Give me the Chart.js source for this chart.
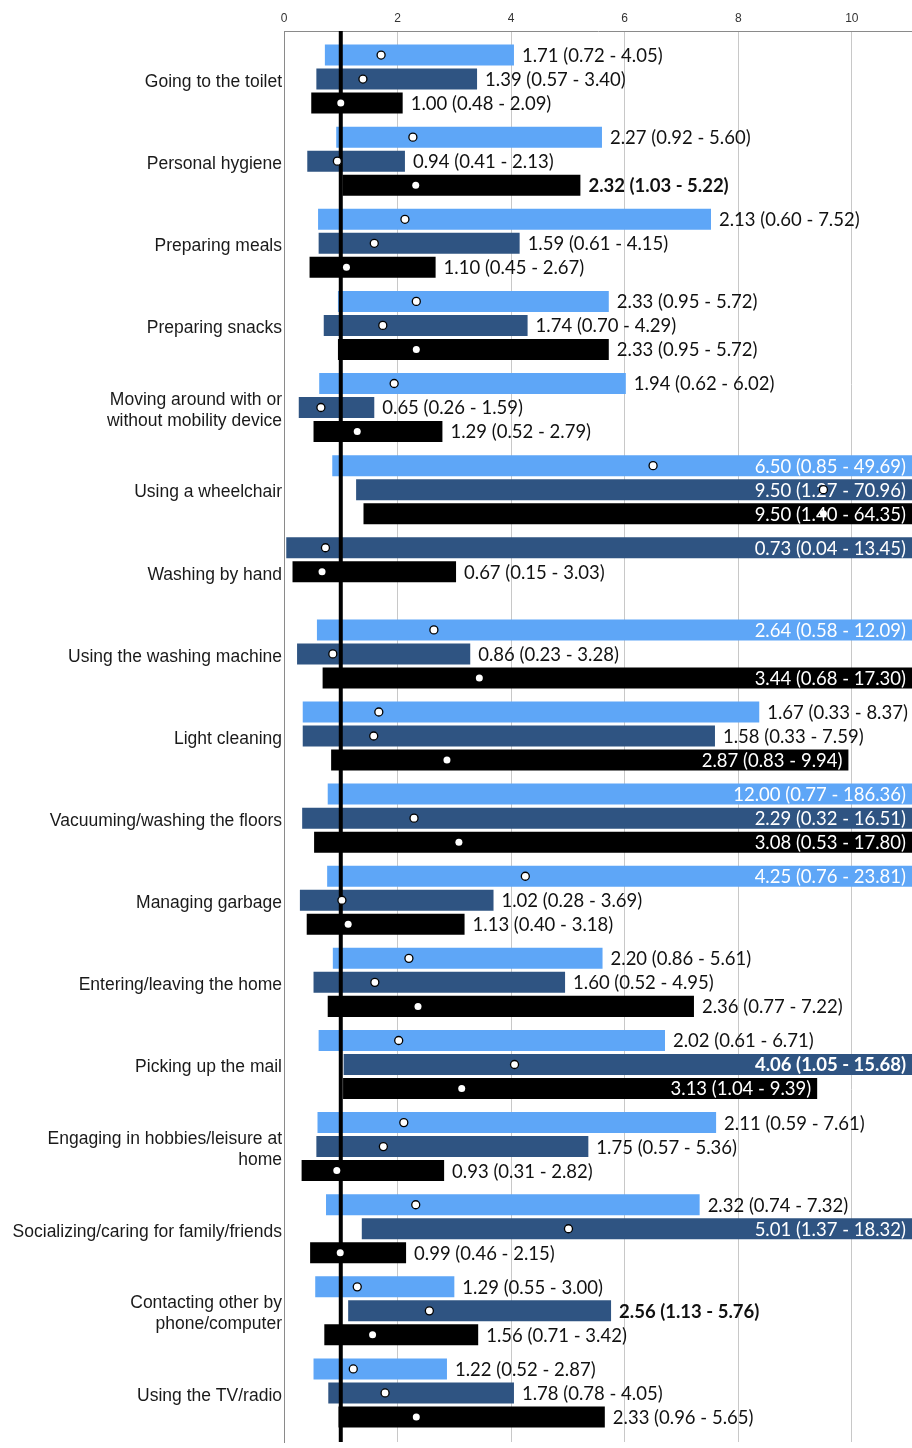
<!DOCTYPE html>
<html>
<head>
<meta charset="utf-8">
<script src="https://cdn.jsdelivr.net/npm/chart.js@4.4.1/dist/chart.umd.min.js"></script>
<style>
  html, body { margin: 0; background: #fff; }
  #wrap { width: 912px; height: 1448px; }
</style>
</head>
<body>
<div id="wrap"><canvas id="chart"></canvas></div>
<script>
// Activities (top to bottom); arrays are used for labels that wrap
const activities = [
  'Going to the toilet',
  'Personal hygiene',
  'Preparing meals',
  'Preparing snacks',
  ['Moving around with or', 'without mobility device'],
  'Using a wheelchair',
  'Washing by hand',
  'Using the washing machine',
  'Light cleaning',
  'Vacuuming/washing the floors',
  'Managing garbage',
  'Entering/leaving the home',
  'Picking up the mail',
  ['Engaging in hobbies/leisure at', 'home'],
  'Socializing/caring for family/friends',
  ['Contacting other by', 'phone/computer'],
  'Using the TV/radio'
];

// Odds ratios with 95% CI for each group (null = not estimated)
const lightEst = [1.71, 2.27, 2.13, 2.33, 1.94, 6.50, null, 2.64, 1.67, 12.00, 4.25, 2.20, 2.02, 2.11, 2.32, 1.29, 1.22];
const lightLo  = [0.72, 0.92, 0.60, 0.95, 0.62, 0.85, null, 0.58, 0.33, 0.77, 0.76, 0.86, 0.61, 0.59, 0.74, 0.55, 0.52];
const lightHi  = [4.05, 5.60, 7.52, 5.72, 6.02, 49.69, null, 12.09, 8.37, 186.36, 23.81, 5.61, 6.71, 7.61, 7.32, 3.00, 2.87];

const darkEst = [1.39, 0.94, 1.59, 1.74, 0.65, 9.50, 0.73, 0.86, 1.58, 2.29, 1.02, 1.60, 4.06, 1.75, 5.01, 2.56, 1.78];
const darkLo  = [0.57, 0.41, 0.61, 0.70, 0.26, 1.27, 0.04, 0.23, 0.33, 0.32, 0.28, 0.52, 1.05, 0.57, 1.37, 1.13, 0.78];
const darkHi  = [3.40, 2.13, 4.15, 4.29, 1.59, 70.96, 13.45, 3.28, 7.59, 16.51, 3.69, 4.95, 15.68, 5.36, 18.32, 5.76, 4.05];

const blackEst = [1.00, 2.32, 1.10, 2.33, 1.29, 9.50, 0.67, 3.44, 2.87, 3.08, 1.13, 2.36, 3.13, 0.93, 0.99, 1.56, 2.33];
const blackLo  = [0.48, 1.03, 0.45, 0.95, 0.52, 1.40, 0.15, 0.68, 0.83, 0.53, 0.40, 0.77, 1.04, 0.31, 0.46, 0.71, 0.96];
const blackHi  = [2.09, 5.22, 2.67, 5.72, 2.79, 64.35, 3.03, 17.30, 9.94, 17.80, 3.18, 7.22, 9.39, 2.82, 2.15, 3.42, 5.65];

// rows whose label is printed in bold
const lightBold = [];
const darkBold = [12, 15];
const blackBold = [1];

const xTicks = [0, 2, 4, 6, 8, 10];
const refValue = 1;

const series = [
  { est: lightEst, lo: lightLo, hi: lightHi, bold: lightBold, color: '#5ea6f7', outline: true },
  { est: darkEst, lo: darkLo, hi: darkHi, bold: darkBold, color: '#2f5482', outline: true },
  { est: blackEst, lo: blackLo, hi: blackHi, bold: blackBold, color: '#000000', outline: false }
];

// within a row the available estimates are packed from the top slot down
const slots = series.map(() => []);
activities.forEach((a, i) => {
  series
    .map((s, k) => k)
    .filter(k => series[k].lo[i] != null)
    .forEach((k, slot) => slots[slot].push({ x: [series[k].lo[i], series[k].hi[i]], y: i, s: k }));
});

const fmt = v => v.toFixed(2);
const numFont = 'Lato, "Open Sans", sans-serif';

// reference line at OR = 1, value labels and point estimates
const overlay = {
  id: 'overlay',
  afterDatasetsDraw(chart) {
    const { ctx, chartArea: area, scales: { x } } = chart;
    const refX = x.getPixelForValue(refValue);
    ctx.save();
    ctx.strokeStyle = '#000';
    ctx.lineWidth = 4;
    ctx.beginPath();
    ctx.moveTo(refX, area.top);
    ctx.lineTo(refX, area.bottom);
    ctx.stroke();

    const each = fn => chart.data.datasets.forEach((ds, k) => {
      chart.getDatasetMeta(k).data.forEach((bar, j) => {
        const d = ds.data[j];
        fn(bar, series[d.s], d.y);
      });
    });

    // labels
    ctx.textBaseline = 'middle';
    each((bar, s, i) => {
      const text = `${fmt(s.est[i])} (${fmt(s.lo[i])} - ${fmt(s.hi[i])})`;
      ctx.font = `${s.bold.includes(i) ? 'bold ' : ''}18.5px ${numFont}`;
      const w = ctx.measureText(text).width;
      const end = Math.min(bar.x, area.right);
      if (end + 8 + w <= area.right) {
        ctx.textAlign = 'left';
        ctx.fillStyle = '#111';
        ctx.fillText(text, end + 8, bar.y + 1);
      } else {
        ctx.textAlign = 'right';
        ctx.fillStyle = '#fff';
        ctx.fillText(text, end - 6, bar.y + 1);
      }
    });

    // point estimates
    each((bar, s, i) => {
      const px = x.getPixelForValue(s.est[i]);
      if (px > area.right) return;
      ctx.beginPath();
      ctx.arc(px, bar.y, s.outline ? 4 : 3.5, 0, Math.PI * 2);
      ctx.fillStyle = '#fff';
      ctx.fill();
      if (s.outline) {
        ctx.strokeStyle = '#000';
        ctx.lineWidth = 1.3;
        ctx.stroke();
      }
    });
    ctx.restore();
  }
};

const datasets = slots.map(data => ({
  data,
  backgroundColor: c => (c.raw ? series[c.raw.s].color : '#000'),
  borderWidth: 0,
  categoryPercentage: 0.877,
  barPercentage: 0.875
}));

new Chart(document.getElementById('chart'), {
  type: 'bar',
  data: { datasets },
  options: {
    indexAxis: 'y',
    responsive: true,
    maintainAspectRatio: false,
    animation: false,
    layout: { padding: { top: 0, right: 0, bottom: 6, left: 0 } },
    plugins: { legend: { display: false }, tooltip: { enabled: false } },
    scales: {
      x: {
        type: 'linear',
        position: 'top',
        min: 0,
        max: 11.06,
        afterBuildTicks: s => { s.ticks = xTicks.map(v => ({ value: v })); },
        afterFit: s => { s.height = 31; },
        ticks: { color: '#333', font: { family: 'Liberation Sans, Arial', size: 12 }, padding: 5 },
        grid: { color: '#c8c8c8', lineWidth: 1, drawTicks: false },
        border: { color: '#8a8a8a', width: 1 }
      },
      y: {
        type: 'linear',
        reverse: true,
        offset: false,
        min: -0.585,
        max: 16.597,
        afterBuildTicks: s => { s.ticks = activities.map((a, i) => ({ value: i })); },
        afterFit: s => { s.width = 284; s.paddingTop = 0; s.paddingBottom = 0; },
        ticks: {
          color: '#1a1a1a',
          font: { family: 'Liberation Sans, Arial', size: 17.5 },
          padding: 2,
          labelOffset: 3,
          callback: v => activities[v]
        },
        grid: { display: false, drawTicks: false },
        border: { color: '#8a8a8a', width: 1 }
      }
    }
  },
  plugins: [overlay]
});
</script>
</body>
</html>
